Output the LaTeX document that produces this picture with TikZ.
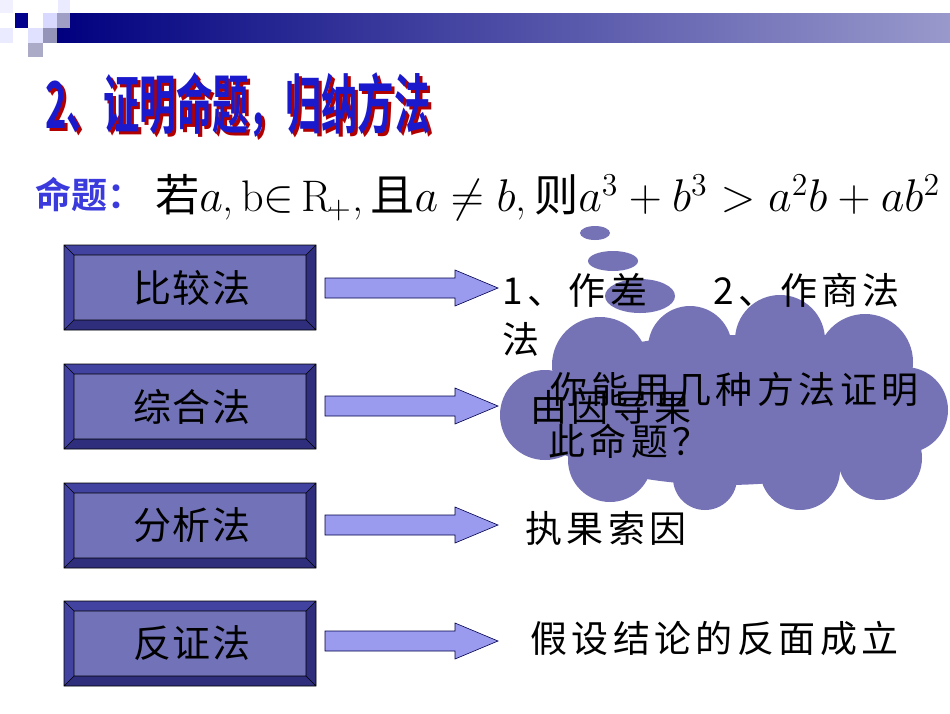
\documentclass[tikz,border=0pt]{standalone}
\usepackage{fontspec}
\newfontfamily\cjk{Noto Sans CJK SC}[BoldFont={Noto Sans CJK SC Bold}]
\newfontfamily\cjksp{Noto Sans CJK SC}[LetterSpace=12]
\newfontfamily\cjkbox{Noto Sans CJK SC}[LetterSpace=5]
\usetikzlibrary{shadings}
\definecolor{inner}{HTML}{7272B8}
\definecolor{bevA}{HTML}{4242A0}
\definecolor{bevB}{HTML}{2E2E7C}
\definecolor{arrf}{HTML}{9A9AEE}
\definecolor{cloudc}{HTML}{7573B6}
\definecolor{titleb}{HTML}{1A1ACC}
\definecolor{propb}{HTML}{3A3ADD}
\newcommand\bevbox[3]{%
  \fill[bevA] (64,#1) -- (316,#1) -- (306,#1+10) -- (74,#1+10) -- (74,#1+75) -- (64,#1+85) -- cycle;
  \fill[bevB] (316,#1) -- (316,#1+85) -- (64,#1+85) -- (74,#1+75) -- (306,#1+75) -- (306,#1+10) -- cycle;
  \fill[inner] (74,#1+10) rectangle (306,#1+75);
  \draw[line width=0.6pt] (64,#1) rectangle (316,#1+85) (74,#1+10) rectangle (306,#1+75)
    (64,#1) -- (74,#1+10) (316,#1) -- (306,#1+10) (64,#1+85) -- (74,#1+75) (316,#1+85) -- (306,#1+75);
  \node[lbl] (#2) at (192,#1+42.5) {#3};
}
\newcommand\fatarrow[2]{%
  \draw[fill=arrf,draw=black!70!blue,line width=0.6pt] (325,#1-10) -- (455,#1-10) -- (455,#1-18) -- (498,#1) -- (455,#1+18) -- (455,#1+10) -- (325,#1+10) -- cycle;
  \coordinate (#2) at (498,#1);
}
\begin{document}
\begin{tikzpicture}[x=1pt,y=-1pt,
  lbl/.style={font=\cjkbox\fontsize{38}{40}\selectfont, text=black},
  rt/.style={font=\cjksp\fontsize{37}{44}\selectfont, text=black, anchor=west, inner sep=0pt}]
\useasboundingbox (0,0) rectangle (950,713);
\fill[white] (0,0) rectangle (950,713);
% header
\shade[left color=blue!50!black, right color=blue!25!white!80!black] (55,13) rectangle (950,42);
\fill[blue!55!black] (15,13) rectangle (28,28);
\fill[blue!15!white] (43,13) rectangle (57,28);
\fill[blue!25!gray!60!white] (57,13) rectangle (70,28);
\fill[blue!8!white] (58,0) rectangle (70,13);
\fill[blue!6!white] (0,0) rectangle (13,13);
\fill[blue!8!white] (0,28) rectangle (13,43);
\fill[blue!12!white] (28,28) rectangle (43,43);
\fill[blue!20!gray!70!white] (43,28) rectangle (57,43);
\fill[blue!20!gray!55!white] (28,43) rectangle (43,57);
% title
\node[font=\cjk\bfseries, text=red!70!black] at (241,108) {\resizebox{385pt}{56pt}{2、证明命题，归纳方法}};
\node[font=\cjk\bfseries, text=titleb] (title) at (238,105) {\resizebox{385pt}{56pt}{2、证明命题，归纳方法}};
% proposition
\node[anchor=west, font=\cjk\fontsize{36}{38}\selectfont\bfseries, text=propb, inner sep=0pt] (prop) at (35,195) {命题：};
\node[anchor=west, inner sep=0pt] (formula) at (155,198)
  {\resizebox{785pt}{!}{\fontsize{20}{22}\selectfont{\cjk 若}$a$,\,b$\in$\,R$_{\!+}$,\,{\cjk 且}$a\neq b$,\,{\cjk 则}$a^3+b^3>a^2b+ab^2$}};
% boxes and arrows
\bevbox{245}{b1}{比较法}
\bevbox{364}{b2}{综合法}
\bevbox{483}{b3}{分析法}
\bevbox{601}{b4}{反证法}
\fatarrow{288}{a1}
\fatarrow{406}{a2}
\fatarrow{525}{a3}
\fatarrow{641}{a4}
% thought cloud
\begin{scope}[cloudc]
\fill (595,233) ellipse (15 and 7);
\fill (613,261) ellipse (25 and 10);
\fill (640,296) ellipse (35 and 17);
\fill (725,410) ellipse (200 and 75);
\fill (600,365) circle (48);
\fill (690,348) circle (42);
\fill (780,340) circle (45);
\fill (865,362) circle (48);
\fill (905,410) circle (43);
\fill (880,458) circle (42);
\fill (800,470) circle (40);
\fill (705,478) circle (32);
\fill (610,460) circle (42);
\fill (545,415) circle (45);
\end{scope}
% texts
\node[rt] (t1) at (502,290) {1、作差\hspace{1.8em}2、作商法};
\node[rt] (t1b) at (502,339) {法};
\node[rt] (t2) at (530,407) {由因导果};
\node[rt] (t3) at (525,528) {执果索因};
\node[rt] (t4) at (530,638) {假设结论的反面成立};
\node[rt] (c1) at (550,389) {你能用几种方法证明};
\node[rt] (c2) at (548,441) {此命题？};
\end{tikzpicture}
\end{document}
